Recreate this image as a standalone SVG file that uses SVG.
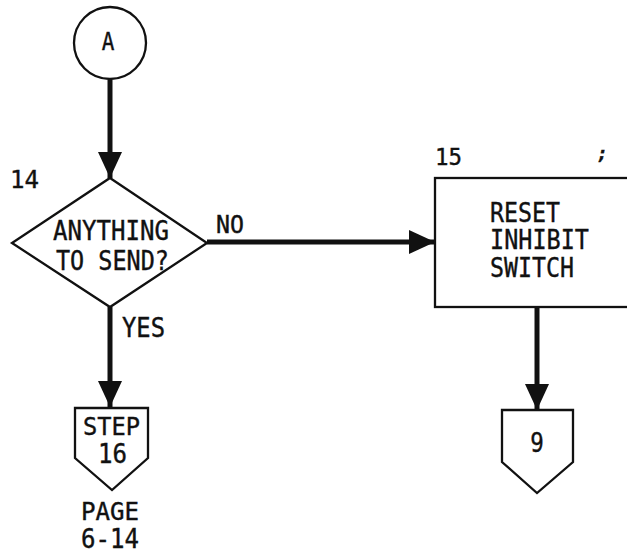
<svg xmlns="http://www.w3.org/2000/svg" width="627" height="554" viewBox="0 0 627 554">
  <style>
    .shape { fill: #fff; stroke: #111; stroke-width: 2.3; stroke-linejoin: miter; }
    .flow { fill: none; stroke: #111; stroke-width: 5; }
    .lbl { font-family: "DejaVu Sans Mono", "Liberation Mono", monospace; fill: #111; stroke: #111; stroke-width: 0.35; }
  </style>
  <defs>
    <marker id="head" markerUnits="userSpaceOnUse" viewBox="0 0 26 24" markerWidth="26" markerHeight="24" refX="26" refY="12" orient="auto">
      <path d="M0,0 L26,12 L0,24 Z" fill="#111"/>
    </marker>
  </defs>
  <rect width="627" height="554" fill="#fff"/>

  <!-- connectors; lettering is stretched 1.15x vertically like stencil lettering -->
  <g id="connectors">
    <line class="flow" x1="110" y1="80" x2="110" y2="178" marker-end="url(#head)"/>
    <line class="flow" x1="207" y1="242" x2="435" y2="242" marker-end="url(#head)"/>
    <line class="flow" x1="110" y1="307" x2="110" y2="407" marker-end="url(#head)"/>
    <line class="flow" x1="537" y1="307" x2="537" y2="410" marker-end="url(#head)"/>
    <text class="lbl" transform="translate(216,233) scale(1,1.15)" font-size="21.5" textLength="28" lengthAdjust="spacingAndGlyphs">NO</text>
    <text class="lbl" transform="translate(122,337) scale(1,1.15)" font-size="22.5" textLength="43" lengthAdjust="spacingAndGlyphs">YES</text>
  </g>

  <!-- entry connector A -->
  <g id="node-a">
    <circle class="shape" cx="110" cy="43" r="36"/>
    <text class="lbl" transform="translate(108,50) scale(1,1.15)" font-size="21" text-anchor="middle">A</text>
  </g>

  <!-- decision 14 -->
  <g id="node-14">
    <text class="lbl" transform="translate(10,188) scale(1,1.15)" font-size="21.5" textLength="29" lengthAdjust="spacingAndGlyphs">14</text>
    <polygon class="shape" points="110,178 207,243 110,307 12,243"/>
    <text class="lbl" transform="translate(53,240) scale(1,1.15)" font-size="23.5" textLength="116" lengthAdjust="spacingAndGlyphs">ANYTHING</text>
    <text class="lbl" transform="translate(56,270) scale(1,1.15)" font-size="23.5" textLength="113" lengthAdjust="spacingAndGlyphs">TO SEND?</text>
  </g>

  <!-- process 15 -->
  <g id="node-15">
    <text class="lbl" transform="translate(435,165) scale(1,1.15)" font-size="20.5" textLength="27" lengthAdjust="spacingAndGlyphs">15</text>
    <text class="lbl" x="597" y="160" font-size="18" font-style="italic" font-weight="bold">;</text>
    <rect class="shape" x="435" y="178" width="220" height="129"/>
    <text class="lbl" transform="translate(490,222) scale(1,1.15)" font-size="23.5" textLength="70" lengthAdjust="spacingAndGlyphs">RESET</text>
    <text class="lbl" transform="translate(490,249) scale(1,1.15)" font-size="23.5" textLength="99" lengthAdjust="spacingAndGlyphs">INHIBIT</text>
    <text class="lbl" transform="translate(490,277) scale(1,1.15)" font-size="23.5" textLength="84" lengthAdjust="spacingAndGlyphs">SWITCH</text>
  </g>

  <!-- off-page connector to step 16 -->
  <g id="node-step16">
    <polygon class="shape" points="75,408 148,408 148,458 112,490 75,458"/>
    <text class="lbl" transform="translate(83,435) scale(1,1.15)" font-size="21.5" textLength="57" lengthAdjust="spacingAndGlyphs">STEP</text>
    <text class="lbl" transform="translate(98,463) scale(1,1.15)" font-size="23.5" textLength="29" lengthAdjust="spacingAndGlyphs">16</text>
    <text class="lbl" transform="translate(81,520) scale(1,1.15)" font-size="21.5" textLength="58" lengthAdjust="spacingAndGlyphs">PAGE</text>
    <text class="lbl" transform="translate(81,548) scale(1,1.15)" font-size="23" textLength="58" lengthAdjust="spacingAndGlyphs">6-14</text>
  </g>

  <!-- off-page connector 9 -->
  <g id="node-9">
    <polygon class="shape" points="502,410 573,410 573,462 537,493 502,462"/>
    <text class="lbl" transform="translate(537,452) scale(1,1.15)" font-size="22.5" text-anchor="middle">9</text>
  </g>
</svg>
